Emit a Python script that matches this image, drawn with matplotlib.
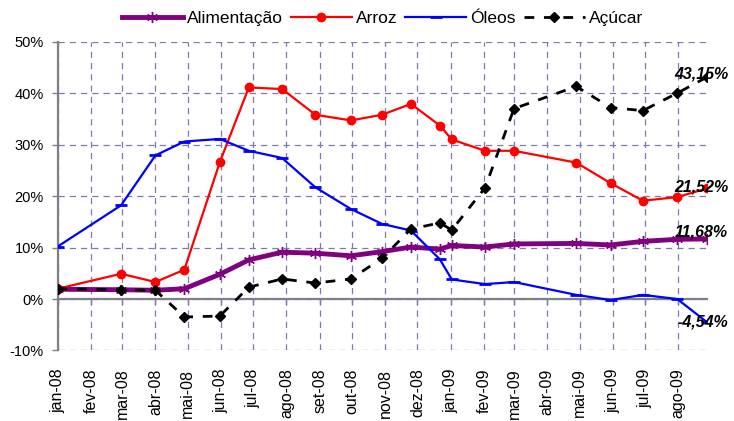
import matplotlib
matplotlib.use('Agg')
import matplotlib.pyplot as plt
import numpy as np

# datas das observações (eixo de datas, espaçamento irregular)
datas = ['2008-01-01', '2008-02-29', '2008-04-01', '2008-04-28', '2008-05-31',
         '2008-06-27', '2008-07-28', '2008-08-28', '2008-09-30', '2008-10-29',
         '2008-11-25', '2008-12-22', '2009-01-02', '2009-02-02', '2009-03-01',
         '2009-04-28', '2009-05-30', '2009-06-29', '2009-07-31', '2009-08-28']

alimentacao = [1.9, 1.8, 1.7, 2.0, 4.8, 7.6, 9.1, 8.9, 8.4, 9.2,
               10.1, 9.7, 10.4, 10.1, 10.7, 10.8, 10.5, 11.2, 11.6, 11.68]
arroz = [2.0, 4.9, 3.3, 5.7, 26.6, 41.1, 40.8, 35.8, 34.7, 35.8,
         37.9, 33.7, 31.0, 28.8, 28.8, 26.5, 22.5, 19.1, 19.8, 21.52]
oleos = [10.2, 18.2, 27.9, 30.6, 31.1, 28.8, 27.4, 21.7, 17.5, 14.6,
         13.3, 7.7, 3.8, 2.9, 3.3, 0.8, -0.2, 0.8, 0.0, -4.54]
acucar = [2.0, 1.8, 1.7, -3.5, -3.3, 2.3, 3.9, 3.1, 3.9, 7.9,
          13.6, 14.8, 13.4, 21.6, 37.0, 41.3, 37.2, 36.6, 40.0, 43.15]

meses = ['jan-08', 'fev-08', 'mar-08', 'abr-08', 'mai-08', 'jun-08', 'jul-08',
         'ago-08', 'set-08', 'out-08', 'nov-08', 'dez-08', 'jan-09', 'fev-09',
         'mar-09', 'abr-09', 'mai-09', 'jun-09', 'jul-09', 'ago-09']
inicio_meses = ['2008-01-01', '2008-02-01', '2008-03-01', '2008-04-01', '2008-05-01',
                '2008-06-01', '2008-07-01', '2008-08-01', '2008-09-01', '2008-10-01',
                '2008-11-01', '2008-12-01', '2009-01-01', '2009-02-01', '2009-03-01',
                '2009-04-01', '2009-05-01', '2009-06-01', '2009-07-01', '2009-08-01']

plt.rcParams['font.family'] = ['Liberation Sans', 'DejaVu Sans']

x = np.array(datas, dtype='datetime64[D]')
xt = np.array(inicio_meses, dtype='datetime64[D]')
cinza = '#808080'

fig = plt.figure(figsize=(7.34, 4.21), dpi=100)
ax = fig.add_axes([0.0786, 0.1675, 0.885, 0.7335])  # [left, bottom, width, height]

ax.plot(x, alimentacao, color='#800080', lw=3.5, marker=(6, 2, 0), ms=8, mew=1,
        label='Alimentação', zorder=3)
ax.plot(x, arroz, color='#ff0000', lw=1.6, marker='o', ms=6, label='Arroz', zorder=4)
ax.plot(x, oleos, color='#0000ff', lw=1.6, marker='_', ms=8, mew=2, label='Óleos', zorder=5)
ax.plot(x, acucar, color='black', lw=2.0, ls=(0, (3.5, 3.5)), marker='D', ms=5.5,
        label='Açúcar', zorder=6)

ax.set_xlim(x[0], x[-1])
ax.set_ylim(-10, 50)
ax.set_yticks(range(-10, 51, 10))
ax.set_yticklabels(['%d%%' % v for v in range(-10, 51, 10)], fontsize=10.5)
ax.set_xticks(xt)
ax.set_xticklabels(meses, rotation=90, fontsize=11.5)
ax.tick_params(axis='x', length=0, pad=13)
ax.tick_params(axis='y', length=4, color=cinza, width=1, pad=6)
ax.grid(True, color='#7c7cac', ls=(0, (5, 4)), lw=0.9, zorder=0)
ax.set_axisbelow(True)

for s in ['top', 'right', 'bottom']:
    ax.spines[s].set_visible(False)
ax.spines['left'].set_color(cinza)
ax.spines['left'].set_linewidth(1.6)

# eixo do zero com as marcas dos meses
sec = ax.secondary_xaxis(1 / 6)
sec.set_xticks(xt)
sec.tick_params(labelbottom=False, labeltop=False, length=4, color=cinza, width=1,
                direction='out')
sec.spines['bottom'].set_color(cinza)
sec.spines['bottom'].set_linewidth(1.6)

# rótulos do último ponto
rotulos = ['11,68%', '21,52%', '-4,54%', '43,15%']
finais = [alimentacao[-1], arroz[-1], oleos[-1], acucar[-1]]
desloc = [7, 1, 0, 3]
for txt, v, dy in zip(rotulos, finais, desloc):
    ax.annotate(txt, xy=(x[-1], v), xytext=(21, dy), textcoords='offset pixels',
                ha='right', va='center', fontsize=11.5, fontweight='bold',
                fontstyle='italic', zorder=10, annotation_clip=False)

leg = ax.legend(loc='center', bbox_to_anchor=(0.5, 1.075), ncol=4, frameon=False,
                fontsize=12.5, handlelength=3.5, handletextpad=0.25,
                columnspacing=0.45, borderaxespad=0)

fig.savefig('out.png', dpi=100)
